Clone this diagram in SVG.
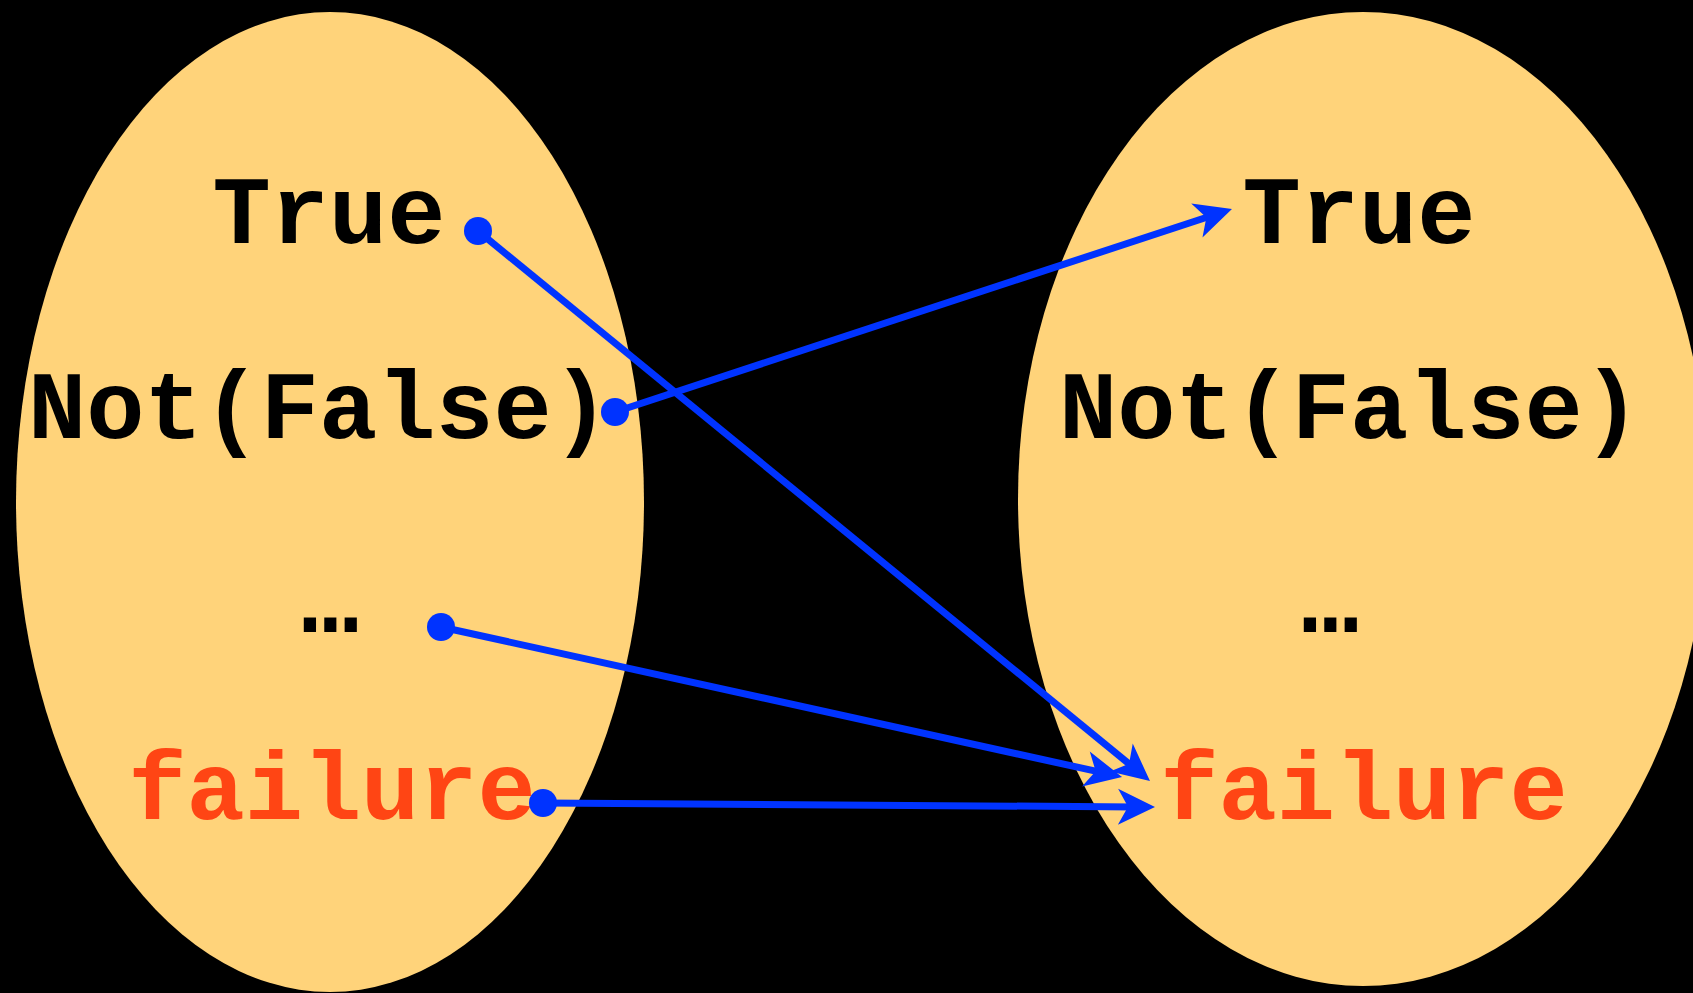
<svg xmlns="http://www.w3.org/2000/svg" width="1693" height="993" viewBox="0 0 1693 993">
  <style>
    .set { fill: #FFD37A; }
    .lbl { font-family: "Liberation Mono", "Courier New", monospace; font-weight: bold; font-size: 97px; text-anchor: middle; fill: #000000; }
    .fail { fill: #FF4514; }
    .conn { stroke: #0033FF; stroke-width: 7; fill: none; marker-end: url(#arrow); }
    .dot { fill: #0033FF; }
  </style>
  <defs>
    <marker id="arrow" markerUnits="userSpaceOnUse" viewBox="-40 -20 42 40" markerWidth="42" markerHeight="40" refX="-20" refY="0" orient="auto" overflow="visible">
      <path d="M0,0 L-37,-18 L-27,0 L-37,18 Z" fill="#0033FF"/>
    </marker>
  </defs>
  <rect x="0" y="0" width="1693" height="993" fill="#000000"/>
  <g id="left-set">
    <ellipse class="set" cx="330" cy="502" rx="314" ry="490"/>
  </g>
  <g id="right-set">
    <ellipse class="set" cx="1363" cy="499" rx="345" ry="487"/>
  </g>
  <g id="left-true"><text class="lbl" x="329" y="243">True</text></g>
  <g id="left-notfalse"><text class="lbl" x="319" y="438">Not(False)</text></g>
  <g id="left-dots"><text class="lbl" x="330" y="632">…</text></g>
  <g id="left-failure"><text class="lbl fail" x="332" y="819">failure</text></g>
  <g id="right-true"><text class="lbl" x="1359" y="243">True</text></g>
  <g id="right-notfalse"><text class="lbl" x="1350" y="438">Not(False)</text></g>
  <g id="right-dots"><text class="lbl" x="1330" y="632">…</text></g>
  <g id="right-failure"><text class="lbl fail" x="1364" y="819">failure</text></g>
  <g id="connectors">
    <line class="conn" x1="478" y1="231" x2="1134.5" y2="768.3"/>
    <line class="conn" x1="615" y1="412" x2="1213" y2="215.2"/>
    <line class="conn" x1="441" y1="627" x2="1102.5" y2="772.7"/>
    <line class="conn" x1="543" y1="803" x2="1135" y2="806.9"/>
    <circle class="dot" cx="478" cy="231" r="14"/>
    <circle class="dot" cx="615" cy="412" r="14"/>
    <circle class="dot" cx="441" cy="627" r="14"/>
    <circle class="dot" cx="543" cy="803" r="14"/>
  </g>
</svg>
